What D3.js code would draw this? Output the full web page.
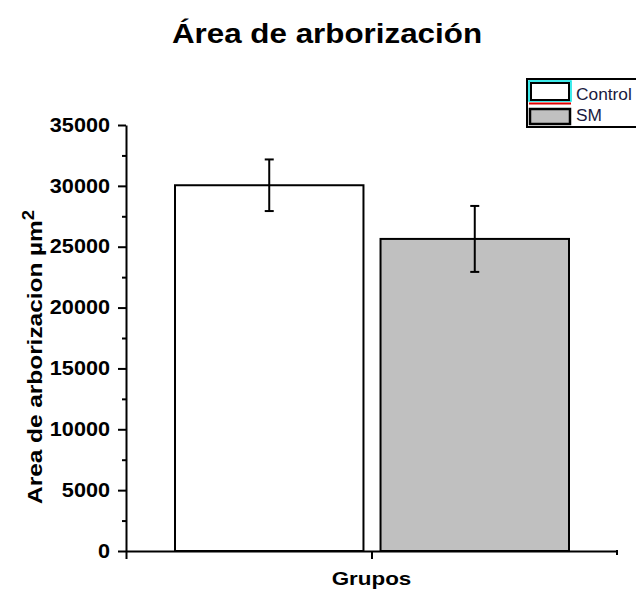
<!DOCTYPE html>
<html>
<head>
<meta charset="utf-8">
<script src="https://cdn.jsdelivr.net/npm/d3@7"></script>
<style>
  html, body { margin: 0; padding: 0; background: #fff; }
  svg { display: block; font-family: "Liberation Sans", Arial, sans-serif; }
</style>
</head>
<body>
<svg id="chart" width="636" height="594"></svg>
<script>
// Group means and standard deviations (µm²)
const groups = ["Control", "SM"];
const means = [30050, 25640];
const errors = [2120, 2710];
const fills = ["#ffffff", "#c0c0c0"];
const yTicks = [0, 5000, 10000, 15000, 20000, 25000, 30000, 35000];

const svg = d3.select("#chart");
const plot = { left: 126, right: 617, top: 125, bottom: 551 };
// Text in this figure is set slightly wide
const WIDE = 1.11;

const y = d3.scaleLinear().domain([0, 35000]).range([plot.bottom, plot.top]);
const xAxisScale = d3.scaleLinear().domain([0, 1]).range([plot.left, plot.right]);
const xBand = d3.scaleBand().domain(groups).range([175, 569]).paddingInner(0.083).paddingOuter(0);

// Title
svg.append("text")
  .attr("transform", `translate(327,43) scale(1.12,1)`)
  .attr("text-anchor", "middle")
  .attr("font-size", 28).attr("font-weight", "bold")
  .text("Área de arborización");

// Bars
const data = groups.map((g, i) => ({ g, mean: means[i], err: errors[i], fill: fills[i] }));
svg.append("g").selectAll("rect").data(data).join("rect")
  .attr("x", d => xBand(d.g))
  .attr("y", d => y(d.mean))
  .attr("width", xBand.bandwidth())
  .attr("height", d => y(0) - y(d.mean))
  .attr("fill", d => d.fill)
  .attr("stroke", "#000").attr("stroke-width", 2);

// Error bars
const eb = svg.append("g").attr("stroke", "#000").attr("stroke-width", 2);
data.forEach(d => {
  const cx = xBand(d.g) + xBand.bandwidth() / 2;
  eb.append("line").attr("x1", cx).attr("x2", cx).attr("y1", y(d.mean + d.err)).attr("y2", y(d.mean - d.err));
  eb.append("line").attr("x1", cx - 4.5).attr("x2", cx + 4.5).attr("y1", y(d.mean + d.err)).attr("y2", y(d.mean + d.err));
  eb.append("line").attr("x1", cx - 4.5).attr("x2", cx + 4.5).attr("y1", y(d.mean - d.err)).attr("y2", y(d.mean - d.err));
});

// Y axis
const yAxis = svg.append("g").attr("transform", `translate(${plot.left},0)`)
  .call(d3.axisLeft(y).tickValues(yTicks).tickSize(8).tickSizeOuter(0).tickFormat(d3.format("d")));
yAxis.select(".domain").attr("stroke-width", 2);
yAxis.selectAll(".tick line").attr("stroke-width", 2);
yAxis.selectAll(".tick text")
  .attr("x", -16 / WIDE)
  .attr("transform", `scale(${WIDE},1)`)
  .attr("font-size", 19.5).attr("font-weight", "bold").attr("font-family", "Liberation Sans, Arial, sans-serif")
  .attr("fill", "#000");
// Minor ticks
svg.append("g").attr("transform", `translate(${plot.left},0)`)
  .call(d3.axisLeft(y).tickValues(d3.range(2500, 35000, 5000)).tickSize(4).tickFormat(""))
  .call(g => g.select(".domain").remove())
  .selectAll(".tick line").attr("stroke-width", 2);

// X axis
const xAxis = svg.append("g").attr("transform", `translate(0,${plot.bottom})`)
  .call(d3.axisBottom(xAxisScale).tickValues([0, 0.5]).tickSize(8).tickSizeOuter(0).tickFormat(""));
xAxis.select(".domain").attr("stroke-width", 2);
xAxis.selectAll(".tick line").attr("stroke-width", 2);
svg.append("line")
  .attr("x1", plot.right).attr("x2", plot.right)
  .attr("y1", plot.bottom - 1).attr("y2", plot.bottom + 4)
  .attr("stroke", "#000").attr("stroke-width", 2);

// Axis titles
svg.append("text")
  .attr("transform", `translate(${xAxisScale(0.5)},585) scale(1.18,1)`)
  .attr("text-anchor", "middle")
  .attr("font-size", 19).attr("font-weight", "bold")
  .text("Grupos");

const yTitle = svg.append("text")
  .attr("transform", "translate(42,357) rotate(-90) scale(1.22,1.05)")
  .attr("text-anchor", "middle")
  .attr("font-size", 20).attr("font-weight", "bold");
yTitle.append("tspan").text("Area de arborizacion µm");
yTitle.append("tspan").attr("dy", -8).attr("font-size", 15).text("2");

// Legend
const lg = svg.append("g");
lg.append("rect").attr("x", 527).attr("y", 79).attr("width", 120).attr("height", 48)
  .attr("fill", "#fff").attr("stroke", "#000").attr("stroke-width", 2);
lg.append("rect").attr("x", 529).attr("y", 81).attr("width", 42).attr("height", 20)
  .attr("fill", "#fff").attr("stroke", "#00e5e5").attr("stroke-width", 1.5);
lg.append("rect").attr("x", 531).attr("y", 83).attr("width", 38).attr("height", 17)
  .attr("fill", "#fff").attr("stroke", "#000").attr("stroke-width", 2);
lg.append("line").attr("x1", 529).attr("x2", 571).attr("y1", 103.5).attr("y2", 103.5)
  .attr("stroke", "#e00000").attr("stroke-width", 2);
lg.append("rect").attr("x", 530).attr("y", 109).attr("width", 40).attr("height", 15)
  .attr("fill", fills[1]).attr("stroke", "#000").attr("stroke-width", 2.5);
lg.selectAll("text.lbl").data(groups).join("text")
  .attr("class", "lbl")
  .attr("transform", (d, i) => `translate(576,${100 + i * 21}) scale(1.05,1)`)
  .attr("font-size", 16.5).attr("fill", "#1a1a40")
  .text(d => d);
</script>
</body>
</html>
